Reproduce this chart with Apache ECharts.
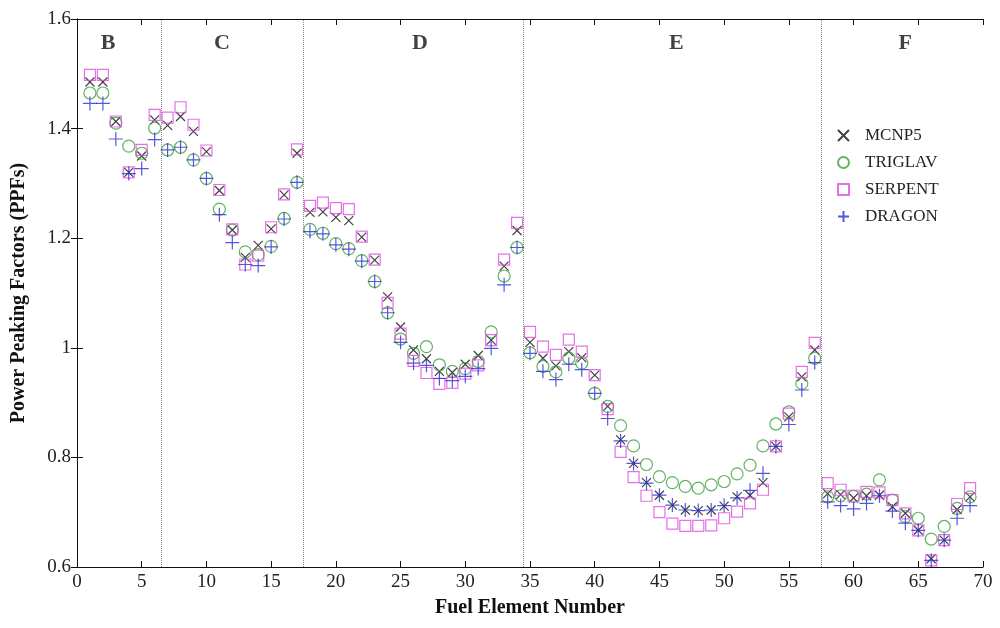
<!DOCTYPE html>
<html>
<head>
<meta charset="utf-8">
<script src="https://cdn.jsdelivr.net/npm/echarts@6/dist/echarts.min.js"></script>
<style>
  html, body { margin: 0; padding: 0; background: #ffffff; }
  #chart { width: 1000px; height: 628px; }
</style>
</head>
<body>
<div id="chart"></div>
<script>
// Fuel element positions in the core
const elementNo = [1, 2, 3, 4, 5, 6, 7, 8, 9, 10, 11, 12, 13, 14, 15, 16, 17, 18, 19, 20,
  21, 22, 23, 24, 25, 26, 27, 28, 29, 30, 31, 32, 33, 34, 35, 36, 37, 38, 39, 40,
  41, 42, 43, 44, 45, 46, 47, 48, 49, 50, 51, 52, 53, 54, 55, 56, 57, 58, 59, 60,
  61, 62, 63, 64, 65, 66, 67, 68, 69];

// Power peaking factors per code
const mcnp5 = [1.485, 1.485, 1.413, 1.320, 1.350, 1.416, 1.406, 1.422, 1.395, 1.358,
  1.287, 1.215, 1.165, 1.187, 1.217, 1.279, 1.355, 1.247, 1.248, 1.238,
  1.232, 1.202, 1.160, 1.093, 1.038, 0.996, 0.980, 0.957, 0.955, 0.970,
  0.986, 1.014, 1.149, 1.214, 1.010, 0.981, 0.967, 0.993, 0.982, 0.950,
  0.893, 0.832, 0.789, 0.754, 0.731, 0.713, 0.704, 0.703, 0.704, 0.711,
  0.728, 0.731, 0.754, 0.820, 0.874, 0.947, 0.996, 0.734, 0.732, 0.726,
  0.730, 0.731, 0.710, 0.698, 0.667, 0.615, 0.649, 0.705, 0.728];

const triglav = [1.465, 1.465, 1.410, 1.368, 1.355, 1.401, 1.361, 1.366, 1.343, 1.309,
  1.253, 1.215, 1.175, 1.170, 1.185, 1.236, 1.302, 1.216, 1.209, 1.190,
  1.181, 1.159, 1.121, 1.064, 1.016, 0.990, 1.002, 0.969, 0.957, 0.962,
  0.975, 1.029, 1.131, 1.183, 0.991, 0.966, 0.956, 0.981, 0.972, 0.917,
  0.893, 0.858, 0.821, 0.787, 0.765, 0.754, 0.747, 0.744, 0.750, 0.756,
  0.770, 0.786, 0.821, 0.861, 0.883, 0.935, 0.981, 0.728, 0.730, 0.729,
  0.733, 0.759, 0.722, 0.692, 0.689, 0.651, 0.674, 0.707, 0.728];

const serpent = [1.498, 1.498, 1.413, 1.320, 1.361, 1.425, 1.420, 1.439, 1.407, 1.360,
  1.288, 1.216, 1.152, 1.168, 1.220, 1.280, 1.362, 1.259, 1.265, 1.255,
  1.253, 1.203, 1.161, 1.082, 1.026, 0.976, 0.954, 0.934, 0.936, 0.953,
  0.968, 1.014, 1.161, 1.228, 1.029, 1.002, 0.987, 1.015, 0.993, 0.950,
  0.888, 0.810, 0.764, 0.730, 0.700, 0.679, 0.675, 0.675, 0.676, 0.689,
  0.701, 0.716, 0.741, 0.820, 0.880, 0.956, 1.009, 0.753, 0.741, 0.730,
  0.737, 0.736, 0.722, 0.698, 0.667, 0.612, 0.649, 0.715, 0.744];

const dragon = [1.446, 1.446, 1.381, 1.318, 1.327, 1.380, 1.361, 1.366, 1.343, 1.309,
  1.243, 1.192, 1.152, 1.150, 1.184, 1.235, 1.302, 1.212, 1.208, 1.188,
  1.180, 1.158, 1.121, 1.064, 1.010, 0.972, 0.968, 0.944, 0.940, 0.948,
  0.962, 0.999, 1.115, 1.183, 0.990, 0.957, 0.942, 0.970, 0.960, 0.917,
  0.871, 0.830, 0.789, 0.753, 0.731, 0.713, 0.704, 0.703, 0.704, 0.712,
  0.726, 0.740, 0.771, 0.820, 0.860, 0.923, 0.973, 0.719, 0.712, 0.706,
  0.716, 0.730, 0.702, 0.680, 0.667, 0.612, 0.649, 0.689, 0.712];

// Core rings and their boundaries
const ringNames = ['B', 'C', 'D', 'E', 'F'];
const ringLabelX = [2.4, 11.2, 26.5, 46.3, 64.0];
const ringLabelY = 1.556;
const ringBounds = [6.5, 17.5, 34.5, 57.5];

const xTicks = { min: 0, max: 70, interval: 5 };
const yTicks = { min: 0.6, max: 1.6, interval: 0.2 };

const serif = '"Liberation Serif", "DejaVu Serif", serif';

const toPoints = vals => elementNo.map((n, i) => [n, vals[i]]);

const crossPath = 'path://M0,0L10,10M10,0L0,10';
const plusPath = 'path://M5,0L5,10M0,5L10,5';

function markerSeries(name, vals, symbol, size, color) {
  return {
    name: name,
    type: 'scatter',
    data: toPoints(vals),
    symbol: symbol,
    symbolSize: size,
    itemStyle: { color: 'rgba(0,0,0,0)', borderColor: color, borderWidth: 1.2 },
    emphasis: { disabled: true }
  };
}

const chart = echarts.init(document.getElementById('chart'), null, { renderer: 'canvas' });

const axisLineStyle = { show: true, lineStyle: { color: '#111', width: 1 } };
const innerTicks = { show: true, inside: true, length: 6, lineStyle: { color: '#111' } };

chart.setOption({
  animation: false,
  backgroundColor: '#ffffff',
  grid: { left: 77, right: 17, top: 19, bottom: 61, containLabel: false },
  xAxis: [
    {
      type: 'value', position: 'bottom',
      min: xTicks.min, max: xTicks.max, interval: xTicks.interval,
      name: 'Fuel Element Number', nameLocation: 'middle', nameGap: 31,
      nameTextStyle: { fontFamily: serif, fontWeight: 'bold', fontSize: 20, color: '#111' },
      axisLine: axisLineStyle, axisTick: innerTicks,
      axisLabel: { fontFamily: serif, fontSize: 19, color: '#222', margin: 6 },
      splitLine: { show: false }
    },
    {
      type: 'value', position: 'top',
      min: xTicks.min, max: xTicks.max, interval: xTicks.interval,
      axisLine: axisLineStyle, axisTick: innerTicks,
      axisLabel: { show: false }, splitLine: { show: false }
    }
  ],
  yAxis: [
    {
      type: 'value', position: 'left',
      min: yTicks.min, max: yTicks.max, interval: yTicks.interval,
      name: 'Power Peaking Factors (PPFs)', nameLocation: 'middle', nameGap: 48,
      nameTextStyle: { fontFamily: serif, fontWeight: 'bold', fontSize: 20, color: '#111' },
      axisLine: axisLineStyle, axisTick: innerTicks,
      axisLabel: {
        fontFamily: serif, fontSize: 19, color: '#222', margin: 6,
        formatter: v => String(Math.round(v * 10) / 10)
      },
      splitLine: { show: false }
    },
    {
      type: 'value', position: 'right',
      min: yTicks.min, max: yTicks.max, interval: yTicks.interval,
      axisLine: axisLineStyle, axisTick: innerTicks,
      axisLabel: { show: false }, splitLine: { show: false }
    }
  ],
  legend: {
    data: ['MCNP5', 'TRIGLAV', 'SERPENT', 'DRAGON'],
    orient: 'vertical',
    left: 832, top: 122,
    itemWidth: 11, itemHeight: 11, itemGap: 10,
    selectedMode: false,
    textStyle: { fontFamily: serif, fontSize: 17, color: '#222', padding: [0, 0, 0, 11] }
  },
  series: [
    {
      name: 'rings',
      type: 'scatter',
      data: ringNames.map((r, i) => [ringLabelX[i], ringLabelY, r]),
      symbolSize: 0,
      silent: true,
      label: {
        show: true, position: 'inside',
        formatter: p => p.data[2],
        fontFamily: serif, fontWeight: 'bold', fontSize: 22, color: '#111'
      },
      markLine: {
        silent: true, symbol: 'none',
        label: { show: false },
        lineStyle: { type: 'dotted', color: '#888', width: 1 },
        data: ringBounds.map(b => ({ xAxis: b }))
      }
    },
    markerSeries('MCNP5', mcnp5, crossPath, 9, '#111111'),
    markerSeries('TRIGLAV', triglav, 'circle', 12, '#3f9f3f'),
    markerSeries('SERPENT', serpent, 'rect', 11, '#dd4fdd'),
    markerSeries('DRAGON', dragon, plusPath, 14, '#2a2ad6')
  ]
});
</script>
</body>
</html>
